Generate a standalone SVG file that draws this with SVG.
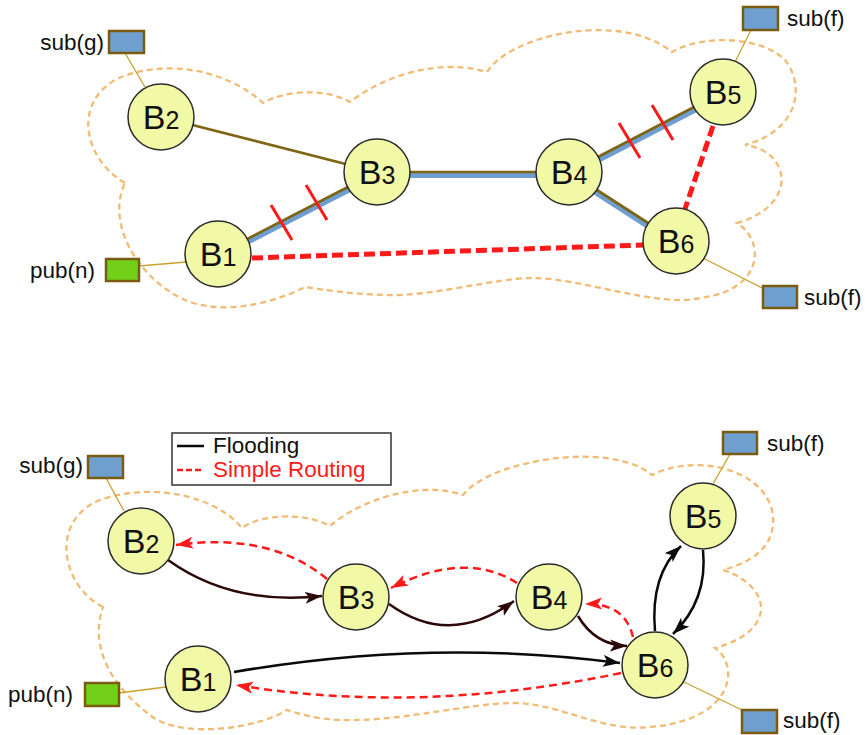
<svg xmlns="http://www.w3.org/2000/svg" width="865" height="735" viewBox="0 0 865 735">
  <style>
    .cloud { fill: none; stroke: #f2bb74; stroke-width: 2.3; stroke-dasharray: 6 4; }
    .node circle { fill: #f1f8a6; stroke: #2b2b2b; stroke-width: 1.5; }
    .node text { font-family: "Liberation Sans", Arial, sans-serif; font-size: 34px; fill: #111; text-anchor: middle; }
    .node .sub { font-size: 25px; }
    .lbl { font-family: "Liberation Sans", Arial, sans-serif; font-size: 22.5px; fill: #111; }
    .sub-box { fill: #6f9fcf; stroke: #7a5c10; stroke-width: 2.5; }
    .pub-box { fill: #72d018; stroke: #7a5c10; stroke-width: 2.5; }
    .tie { stroke: #c9a22c; stroke-width: 1.3; fill: none; }
    .olive { stroke: #7d6514; stroke-width: 2.7; fill: none; }
    .blue { stroke: #6f9fd2; stroke-width: 6; fill: none; }
    .fail { stroke: #ff1a1a; stroke-width: 5; stroke-dasharray: 11 5; fill: none; }
    .tick { stroke: #ff1a1a; stroke-width: 3; }
    .flood { stroke: #2c0808; stroke-width: 2.5; fill: none; }
    .flood-k { stroke: #0a0a0a; stroke-width: 2.5; fill: none; }
    .route { stroke: #ff1a1a; stroke-width: 2.5; stroke-dasharray: 8 5; fill: none; }
  </style>
  <defs>
    <marker id="ah-brown" markerUnits="userSpaceOnUse" markerWidth="18" markerHeight="14" refX="17" refY="6" orient="auto">
      <path d="M0,0 L17,6 L0,12 L4,6 z" fill="#2c0808"/>
    </marker>
    <marker id="ah-black" markerUnits="userSpaceOnUse" markerWidth="18" markerHeight="14" refX="17" refY="6" orient="auto">
      <path d="M0,0 L17,6 L0,12 L4,6 z" fill="#0a0a0a"/>
    </marker>
    <marker id="ah-red" markerUnits="userSpaceOnUse" markerWidth="18" markerHeight="14" refX="17" refY="6" orient="auto">
      <path d="M0,0 L17,6 L0,12 L4,6 z" fill="#ff1a1a"/>
    </marker>
  </defs>

  <!-- ===== Upper network: broken links ===== -->
  <path class="cloud" d="M125,183 C85,160 72,105 115,80 C160,58 225,68 263,103 C285,90 325,88 350,102 C385,75 440,58 487,72 C510,35 620,10 672,52 C700,35 760,35 785,60 C805,85 800,130 745,145 C790,150 800,205 737,223 C765,240 765,290 700,298 C660,308 580,278 533,278 C495,278 430,297 385,295 C350,294 325,290 305,287 C270,305 220,315 185,300 C140,280 105,225 125,183 Z"/>

  <g id="top-connectors">
    <line class="tie" x1="125" y1="53" x2="145" y2="87"/>
    <line class="tie" x1="139" y1="266" x2="186" y2="262"/>
    <line class="tie" x1="751" y1="30" x2="735" y2="62"/>
    <line class="tie" x1="703" y1="258" x2="764" y2="289"/>

    <line class="olive" x1="161" y1="117" x2="377" y2="172"/>
    <g transform="translate(0,3)">
      <line class="blue" x1="218" y1="254" x2="377" y2="172"/>
      <line class="blue" x1="377" y1="172" x2="569" y2="172"/>
      <line class="blue" x1="569" y1="172" x2="723" y2="92"/>
      <line class="blue" x1="569" y1="172" x2="676" y2="241"/>
    </g>
    <line class="olive" x1="218" y1="254" x2="377" y2="172"/>
    <line class="olive" x1="377" y1="172" x2="569" y2="172"/>
    <line class="olive" x1="569" y1="172" x2="723" y2="92"/>
    <line class="olive" x1="569" y1="172" x2="676" y2="241"/>

    <line class="fail" x1="252" y1="258" x2="643" y2="245"/>
    <line class="fail" x1="713" y1="126" x2="685" y2="209"/>

    <line class="tick" x1="271" y1="205" x2="292" y2="240"/>
    <line class="tick" x1="306" y1="185" x2="327" y2="220"/>
    <line class="tick" x1="619" y1="123" x2="640" y2="158"/>
    <line class="tick" x1="652" y1="105" x2="673" y2="140"/>
  </g>

  <g id="top-sub-g">
    <rect class="sub-box" x="109" y="31" width="35" height="22"/>
    <text class="lbl" x="104" y="50" text-anchor="end">sub(g)</text>
  </g>
  <g id="top-pub-n">
    <rect class="pub-box" x="106" y="259" width="33" height="22"/>
    <text class="lbl" x="95" y="278" text-anchor="end">pub(n)</text>
  </g>
  <g id="top-sub-f5">
    <rect class="sub-box" x="743" y="7" width="35" height="23"/>
    <text class="lbl" x="787" y="26">sub(f)</text>
  </g>
  <g id="top-sub-f6">
    <rect class="sub-box" x="763" y="286" width="34" height="22"/>
    <text class="lbl" x="804" y="305">sub(f)</text>
  </g>

  <g id="top-B1" class="node"><circle cx="218" cy="254" r="33"/><text x="218" y="266">B<tspan class="sub">1</tspan></text></g>
  <g id="top-B2" class="node"><circle cx="161" cy="117" r="33"/><text x="161" y="129">B<tspan class="sub">2</tspan></text></g>
  <g id="top-B3" class="node"><circle cx="377" cy="172" r="33"/><text x="377" y="184">B<tspan class="sub">3</tspan></text></g>
  <g id="top-B4" class="node"><circle cx="569" cy="172" r="33"/><text x="569" y="184">B<tspan class="sub">4</tspan></text></g>
  <g id="top-B5" class="node"><circle cx="723" cy="92" r="33"/><text x="723" y="104">B<tspan class="sub">5</tspan></text></g>
  <g id="top-B6" class="node"><circle cx="676" cy="241" r="33"/><text x="676" y="253">B<tspan class="sub">6</tspan></text></g>

  <!-- ===== Lower network: flooding vs. simple routing ===== -->
  <path class="cloud" d="M103,607 C60,585 50,520 100,500 C150,482 215,495 242,528 C260,514 305,512 330,526 C360,500 420,480 463,495 C490,460 610,440 652,475 C690,455 760,465 772,510 C778,540 760,560 723,570 C770,585 780,630 715,648 C740,665 735,720 650,727 C600,732 560,703 513,703 C470,703 400,722 340,720 C315,719 300,714 287,710 C260,728 180,740 150,715 C130,700 85,660 103,607 Z"/>

  <g id="legend">
    <rect x="172" y="433" width="219" height="52" fill="#fff" stroke="#333" stroke-width="1.5"/>
    <line x1="177" y1="446" x2="204" y2="446" stroke="#0a0a0a" stroke-width="2.5"/>
    <text class="lbl" x="213" y="453">Flooding</text>
    <line x1="177" y1="470" x2="204" y2="470" stroke="#ff1a1a" stroke-width="2.5" stroke-dasharray="6 3"/>
    <text class="lbl" x="213" y="477" style="fill:#ff1a1a">Simple Routing</text>
  </g>

  <g id="bottom-connectors">
    <line class="tie" x1="106" y1="478" x2="124" y2="511"/>
    <line class="tie" x1="119" y1="693" x2="166" y2="687"/>
    <line class="tie" x1="730" y1="454" x2="713" y2="484"/>
    <line class="tie" x1="684" y1="682" x2="746" y2="712"/>

    <path class="flood" d="M168,560 Q232,606 322,596" marker-end="url(#ah-brown)"/>
    <path class="flood" d="M389,604 Q450,648 514,601" marker-end="url(#ah-brown)"/>
    <path class="flood" d="M578,616 Q595,645 627,646" marker-end="url(#ah-brown)"/>
    <path class="flood-k" d="M234,672 Q430,638 620,663" marker-end="url(#ah-black)"/>
    <path class="flood-k" d="M655,631 Q650,575 681,546" marker-end="url(#ah-black)"/>
    <path class="flood-k" d="M703,550 Q708,600 673,634" marker-end="url(#ah-black)"/>

    <path class="route" d="M327,579 Q270,532 176,545" marker-end="url(#ah-red)"/>
    <path class="route" d="M517,583 Q465,550 391,588" marker-end="url(#ah-red)"/>
    <path class="route" d="M633,637 Q625,603 585,604" marker-end="url(#ah-red)"/>
    <path class="route" d="M621,673 Q420,715 236,685" marker-end="url(#ah-red)"/>
  </g>

  <g id="bot-sub-g">
    <rect class="sub-box" x="88" y="456" width="35" height="22"/>
    <text class="lbl" x="83" y="473" text-anchor="end">sub(g)</text>
  </g>
  <g id="bot-pub-n">
    <rect class="pub-box" x="85" y="683" width="34" height="23"/>
    <text class="lbl" x="73" y="702" text-anchor="end">pub(n)</text>
  </g>
  <g id="bot-sub-f5">
    <rect class="sub-box" x="723" y="432" width="34" height="22"/>
    <text class="lbl" x="767" y="451">sub(f)</text>
  </g>
  <g id="bot-sub-f6">
    <rect class="sub-box" x="742" y="710" width="35" height="23"/>
    <text class="lbl" x="783" y="728">sub(f)</text>
  </g>

  <g id="bot-B1" class="node"><circle cx="198" cy="679" r="33"/><text x="198" y="691">B<tspan class="sub">1</tspan></text></g>
  <g id="bot-B2" class="node"><circle cx="141" cy="541" r="33"/><text x="141" y="553">B<tspan class="sub">2</tspan></text></g>
  <g id="bot-B3" class="node"><circle cx="356" cy="597" r="33"/><text x="356" y="609">B<tspan class="sub">3</tspan></text></g>
  <g id="bot-B4" class="node"><circle cx="549" cy="597" r="33"/><text x="549" y="609">B<tspan class="sub">4</tspan></text></g>
  <g id="bot-B5" class="node"><circle cx="703" cy="516" r="33"/><text x="703" y="528">B<tspan class="sub">5</tspan></text></g>
  <g id="bot-B6" class="node"><circle cx="655" cy="665" r="33"/><text x="655" y="677">B<tspan class="sub">6</tspan></text></g>
</svg>
